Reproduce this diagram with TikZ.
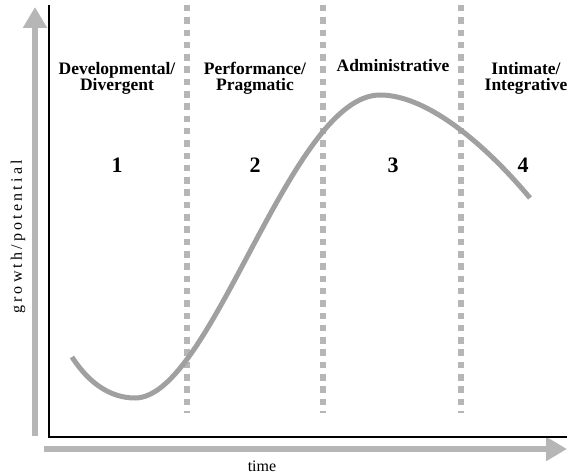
\documentclass[tikz,border=0pt]{standalone}
\usepackage{fontspec}
\setmainfont{Liberation Serif}
\newfontfamily\spacedfont[LetterSpace=20]{Liberation Serif}
\usetikzlibrary{calc,arrows.meta}

\definecolor{axisgray}{HTML}{B6B6B6}
\definecolor{curvegray}{HTML}{A0A0A0}

\tikzset{
    phase/.style={font=\bfseries\fontsize{17.5}{16}\selectfont, align=center},
    stage/.style={font=\bfseries\fontsize{22}{22}\selectfont},
    divider/.style={axisgray, line width=6.5pt, dash pattern=on 6.5pt off 5.8pt},
    axisarrow/.style={axisgray, line width=5.5pt, -{Triangle[length=21pt, width=23pt]}}
}

\begin{document}
\begin{tikzpicture}[x=1pt, y=-1pt]

    \useasboundingbox (0,0) rectangle (568,476);

    % gray axes with arrows
    \coordinate (Ybot) at (35,436);
    \coordinate (Ytop) at (35,7);
    \coordinate (Xleft) at (44,449);
    \coordinate (Xright) at (567,449);
    \draw[axisarrow] (Ybot) -- (Ytop);
    \draw[axisarrow] (Xleft) -- (Xright);

    % black frame
    \coordinate (O) at (49,437);
    \draw[line width=2pt] (49,5) -- (O) -- (567,437);

    % dividers
    \foreach \x/\n in {187/A, 323/B, 461/C} {
        \coordinate (D\n top) at (\x,5);
        \coordinate (D\n bot) at (\x,413);
        \draw[divider] (D\n top) -- (D\n bot);
    }

    % curve
    \coordinate (C0) at (72,357);
    \coordinate (C1) at (135,398);
    \coordinate (C2) at (380,95);
    \coordinate (C3) at (530,198);
    \draw[curvegray, line width=5pt]
        (C0) .. controls (90,385) and (112,398) .. (C1)
             .. controls (212,398) and (290,95) .. (C2)
             .. controls (430,95) and (490,150) .. (C3);

    % phase labels (base = last line)
    \node[phase, anchor=base] (P1) at (117,91) {Developmental/\\Divergent};
    \node[phase, anchor=base] (P2) at (255,91) {Performance/\\Pragmatic};
    \node[phase, anchor=base] (P3) at (393,72) {Administrative};
    \node[phase, anchor=base] (P4) at (526,91) {Intimate/\\Integrative};

    \node[stage, anchor=base] (N1) at (117,173) {1};
    \node[stage, anchor=base] (N2) at (255,173) {2};
    \node[stage, anchor=base] (N3) at (393,173) {3};
    \node[stage, anchor=base] (N4) at (523,173) {4};

    % axis labels
    \node[font=\fontsize{16}{16}\selectfont] (T) at (262,466) {time};
    \node[font=\spacedfont\fontsize{16}{16}\selectfont, rotate=90] (G) at (18,237) {growth/potential};

\end{tikzpicture}
\end{document}
